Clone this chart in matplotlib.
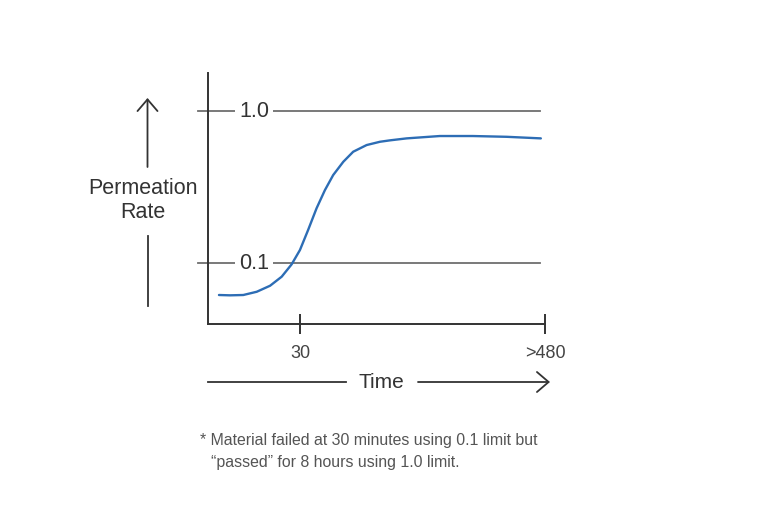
import matplotlib
matplotlib.use("Agg")
import matplotlib.pyplot as plt
from matplotlib.patches import FancyArrowPatch
from matplotlib.lines import Line2D

plt.rcParams['font.family'] = ['Liberation Sans', 'DejaVu Sans']

# curve (time in minutes, log scale; rate, log scale)
time_min = [12.0, 13.6, 15.8, 18.4, 21.4, 24.4, 27.3, 30.0, 32.9, 36.2,
            39.8, 43.7, 49.0, 54.8, 63.8, 74.2, 83.1, 100.3, 146, 212,
            311, 458]
rate = [0.0616, 0.0613, 0.0616, 0.0647, 0.0709, 0.0813, 0.0980, 0.1218,
        0.1649, 0.2291, 0.302, 0.3793, 0.4638, 0.540, 0.5975, 0.628,
        0.6416, 0.661, 0.685, 0.685, 0.677, 0.661]

limits = [0.1, 1.0]
limit_labels = ['0.1', '1.0']
xtick_pos = [30, 480]
xtick_labels = ['30', '>480']

W, H = 772, 523
fig = plt.figure(figsize=(W / 100, H / 100), dpi=100)


def fx(px):
    return px / W


def fy(py):
    return 1 - py / H


ax = fig.add_axes([fx(208), fy(324), fx(545) - fx(208), fy(73) - fy(324)])
ax.set_xscale('log')
ax.set_yscale('log')
ax.set_xlim(10.6, 480)
ax.set_ylim(0.0397, 1.78)

dark = '#333333'
grey = '#6e6e6e'

for s in ['top', 'right']:
    ax.spines[s].set_visible(False)
for s in ['left', 'bottom']:
    ax.spines[s].set_color(dark)
    ax.spines[s].set_linewidth(1.4)

ax.set_xticks(xtick_pos)
ax.set_xticklabels(xtick_labels)
ax.minorticks_off()
ax.tick_params(axis='x', direction='inout', length=14.4, width=1.4,
               color=dark, pad=8, labelsize=13, labelcolor='#444444')
ax.set_yticks([])

# limit lines with their labels breaking the line
for lim, lab in zip(limits, limit_labels):
    ax.plot([-0.03, 0.985], [lim, lim], color=grey, lw=1.3,
            transform=ax.get_yaxis_transform(), clip_on=False, zorder=1)
    ax.text(0.137, lim, lab, transform=ax.get_yaxis_transform(),
            ha='center', va='center', fontsize=15.5, color=dark,
            bbox=dict(boxstyle='square,pad=0.2', fc='white', ec='none'),
            zorder=2)

ax.plot(time_min, rate, color='#2d6db5', lw=1.7, zorder=3,
        solid_capstyle='round', solid_joinstyle='round')

# y-axis label with arrow
arrow_kw = dict(arrowstyle='->,head_length=0.7,head_width=0.6', lw=1.3,
                color=dark, shrinkA=0, shrinkB=0, mutation_scale=12,
                transform=fig.transFigure)
fig.text(fx(143), fy(188), 'Permeation', ha='center', va='center',
         fontsize=15.5, color=dark)
fig.text(fx(143), fy(213), 'Rate', ha='center', va='center',
         fontsize=15.5, color=dark)
fig.add_artist(FancyArrowPatch((fx(147.5), fy(167)), (fx(147.5), fy(98)),
                               **arrow_kw))
fig.add_artist(Line2D([fx(147.5), fx(147.5)], [fy(236), fy(306)],
                      color=dark, lw=1.3))

# x-axis label with arrow
fig.text(fx(381), fy(382), 'Time', ha='center', va='center',
         fontsize=15, color=dark)
fig.add_artist(Line2D([fx(208), fx(346)], [fy(382), fy(382)],
                      color=dark, lw=1.3))
fig.add_artist(FancyArrowPatch((fx(418), fy(382)), (fx(550), fy(382)),
                               **arrow_kw))

# footnote
fig.text(fx(200), fy(441), '* Material failed at 30 minutes using 0.1 limit but',
         ha='left', va='center', fontsize=11.4, color='#555555')
fig.text(fx(211), fy(462), '\u201cpassed\u201d for 8 hours using 1.0 limit.',
         ha='left', va='center', fontsize=11.4, color='#555555')

fig.savefig('out.png', dpi=100)
